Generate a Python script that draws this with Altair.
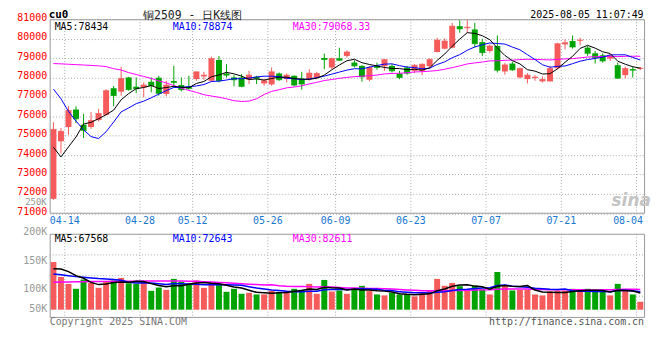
import altair as alt
import pandas as pd

# ---------------- data ----------------
dates = [
    "04-11", "04-14", "04-15", "04-16", "04-17", "04-18", "04-21", "04-22", "04-23", "04-24",
    "04-25", "04-28", "04-29", "04-30", "05-06", "05-07", "05-08", "05-09", "05-12", "05-13",
    "05-14", "05-15", "05-16", "05-19", "05-20", "05-21", "05-22", "05-23", "05-26", "05-27",
    "05-28", "05-29", "05-30", "06-03", "06-04", "06-05", "06-06", "06-09", "06-10", "06-11",
    "06-12", "06-13", "06-16", "06-17", "06-18", "06-19", "06-20", "06-23", "06-24", "06-25",
    "06-26", "06-27", "06-30", "07-01", "07-02", "07-03", "07-04", "07-07", "07-08", "07-09",
    "07-10", "07-11", "07-14", "07-15", "07-16", "07-17", "07-18", "07-21", "07-22", "07-23",
    "07-24", "07-25", "07-28", "07-29", "07-30", "07-31", "08-01", "08-04", "08-05",
]
opens = [
    71742, 74708, 75442, 76345, 75561, 75442, 75800, 76073, 77436, 77266,
    78000, 77522, 77488, 77777, 77982, 77147, 77812, 77607, 77539, 77914,
    78050, 77829, 78903, 78204, 78000, 78000, 77880, 78034, 77692, 77641,
    78204, 77914, 78085, 77948, 77914, 77982, 79005, 78511, 78988, 79108,
    78766, 78596, 77880, 78596, 78579, 78596, 78204, 78511, 78340, 78340,
    78579, 79312, 79482, 79534, 80642, 80540, 80471, 79823, 79363, 79619,
    78306, 78715, 78000, 77914, 77965, 77795, 77795, 78477, 79704, 79875,
    79892, 79534, 79244, 79142, 78971, 78630, 78119, 78426, 78443,
]
highs = [
    75697, 75390, 76516, 76516, 76124, 76209, 76379, 77402, 77556, 78545,
    78033, 78000, 77744, 78000, 78085, 77829, 78596, 78000, 78085, 78300,
    78289, 79073, 79107, 78681, 78118, 78170, 78340, 78085, 77914, 78511,
    78255, 78204, 78118, 78289, 78425, 78289, 79227, 79022, 79534, 79397,
    78886, 78630, 78596, 78766, 78937, 78681, 78340, 78596, 78681, 78715,
    78988, 80045, 80011, 80812, 80948, 80983, 80812, 79994, 79704, 80164,
    78749, 78800, 78511, 78221, 78119, 78051, 78596, 79790, 79960, 80164,
    80045, 79619, 79363, 79244, 79193, 78766, 78562, 78562, 78545,
]
lows = [
    71691, 74077, 75050, 75646, 74879, 75356, 75731, 76039, 76516, 77062,
    77317, 77198, 76977, 77232, 77062, 77028, 77488, 77283, 77368, 77829,
    77880, 77778, 77744, 78000, 77539, 77488, 77658, 77658, 77573, 77573,
    77829, 77744, 77539, 77368, 77829, 77914, 78426, 78426, 78852, 79022,
    78511, 77777, 77795, 78392, 78340, 78255, 77914, 78136, 78221, 78119,
    78460, 79278, 79449, 79500, 80301, 80301, 79534, 79108, 79278, 78255,
    78136, 78340, 77948, 77693, 77829, 77744, 77795, 78426, 79449, 79483,
    79653, 79108, 78715, 78766, 78852, 77914, 77948, 78000, 78374,
]
closes = [
    75322, 75220, 76294, 75868, 75271, 75783, 76141, 77317, 77062, 77948,
    77368, 77419, 77607, 77573, 77181, 77607, 77744, 77368, 77437, 78289,
    78118, 78971, 77829, 78119, 77880, 77539, 78118, 77948, 77829, 78289,
    77880, 78118, 77607, 77658, 78221, 78204, 78920, 78971, 78886, 79312,
    78596, 78033, 78511, 78511, 78920, 78340, 78000, 78221, 78630, 78681,
    78920, 79926, 79875, 80642, 80505, 80590, 79738, 79278, 79619, 78374,
    78647, 78391, 78460, 78119, 78017, 77897, 78460, 79738, 79790, 79568,
    79926, 79244, 79022, 78852, 79108, 77965, 78460, 78374, 78477,
]
volumes = [
    146200, 117400, 104000, 94400, 112300, 105900, 96300, 109100, 110400, 115500,
    105200, 104000, 107200, 90500, 96900, 92400, 113600, 108400, 104000, 110400,
    96300, 107200, 104000, 88600, 94400, 84800, 86700, 83500, 83500, 90500,
    88600, 90500, 94400, 92400, 104000, 84800, 111600, 89200, 91200, 84800,
    94400, 100200, 90000, 83500, 81600, 86700, 83500, 83500, 79700, 86000,
    90500, 113600, 100200, 105900, 99500, 92400, 100200, 93700, 83500, 127000,
    100200, 91200, 92400, 92400, 83500, 81600, 89200, 90500, 90500, 94400,
    89200, 94400, 88600, 88600, 81600, 104000, 92400, 83500, 69400,
]

# moving-average values at the left edge (their history lies before the chart)
ma5_head = [74400, 73900, 74420, 74930]
ma10_head = [77400, 76900, 76250, 75750, 75300, 74950, 74850, 75200, 75700]
ma30_head = [
    78715, 78700, 78680, 78660, 78640, 78620, 78596, 78560, 78450, 78380,
    78250, 78150, 78050, 77950, 77820, 77720, 77580, 77450, 77330, 77230,
    77110, 77040, 76980, 76900, 76800, 76760, 76780, 76900, 77120,
]
vma5_head = [133400, 132800, 127600, 120000]
vma10_head = [123100, 121800, 119900, 118000, 116700, 115500, 114200, 113600, 112300]
vma30_head = [
    107200, 107500, 107800, 108000, 108200, 108400, 108600, 108800, 109000, 109100,
    109200, 109300, 109400, 109500, 109500, 109500, 109500, 109400, 109200, 109000,
    108300, 107500, 106800, 106000, 105200, 104300, 103400, 102600, 102000,
]

price_ticks = [71000, 72000, 73000, 74000, 75000, 76000, 77000, 78000, 79000, 80000, 81000]
volume_ticks = [50000, 100000, 150000, 200000]
volume_grid = [80000, 120000, 160000]
label_dates = ["04-14", "04-28", "05-12", "05-26", "06-09", "06-23", "07-07", "07-21", "08-04"]


def moving_average(values, n, head):
    s = pd.Series(values, dtype=float).rolling(n).mean()
    s.iloc[: len(head)] = head
    return s


df = pd.DataFrame({
    "date": dates, "open": opens, "high": highs, "low": lows,
    "close": closes, "volume": volumes,
})
df["ma5"] = moving_average(closes, 5, ma5_head)
df["ma10"] = moving_average(closes, 10, ma10_head)
df["ma30"] = moving_average(closes, 30, ma30_head)
df["vma5"] = moving_average(volumes, 5, vma5_head)
df["vma10"] = moving_average(volumes, 10, vma10_head)
df["vma30"] = moving_average(volumes, 30, vma30_head)

ticks_df = pd.DataFrame({"date": label_dates})
one = pd.DataFrame({"k": [0]})

# ---------------- styling ----------------
MONO = "DejaVu Sans Mono"
UP, DOWN = "#f55b5b", "#00a300"
GRID = "#aaaaaa"
W, H = 599, 300
P_TOP, P_BOT = 0, 195.5
V_TOP, V_BOT = 216.7, 300
VOL_BASE = 54000

xs = alt.Scale(type="band", paddingInner=0, paddingOuter=0)
ps = alt.Scale(domain=[71000, 81000], range=[P_BOT, P_TOP], nice=False, zero=False)
vs = alt.Scale(domain=[40000, 200000], range=[V_BOT, V_TOP], nice=False, zero=False)

X = alt.X("date:O", scale=xs, axis=None, title=None)
XR = alt.X("date:O", scale=xs, axis=None, title=None, bandPosition=1)
col = alt.condition("datum.close >= datum.open", alt.value(UP), alt.value(DOWN))

base = alt.Chart(df)
src1 = alt.Chart(one)

price_axis = alt.Axis(
    values=price_ticks, format="d", labelColor="#ff0000", labelFont=MONO, labelFontSize=10,
    ticks=False, domain=False, grid=True, gridColor=GRID, gridDash=[1, 2],
    labelPadding=3, labelOffset=-2, labelOverlap=False,
)
vol_axis = alt.Axis(
    values=volume_ticks, orient="left", labelExpr="format(datum.value / 1000, 'd') + 'K'",
    labelColor="#999999", labelFont=MONO, labelFontSize=10,
    ticks=False, domain=False, grid=False, labelPadding=3, labelOverlap=False,
    labelOffset={"expr": "datum.value == 200000 ? -3 : "
                         "datum.value == 100000 ? 3 : datum.value == 50000 ? -3 : 0"},
)

layers = []

# panel grids
layers.append(alt.Chart(ticks_df).mark_rule(color=GRID, strokeDash=[1, 2]).encode(
    x=XR, y=alt.value(P_TOP), y2=alt.value(P_BOT)))
layers.append(alt.Chart(ticks_df).mark_rule(color=GRID, strokeDash=[1, 2]).encode(
    x=XR, y=alt.value(V_TOP), y2=alt.value(V_BOT)))
layers.append(alt.Chart(pd.DataFrame({"v": volume_grid})).mark_rule(color=GRID, strokeDash=[1, 2]).encode(
    y=alt.Y("v:Q", scale=vs, axis=None, title=None), x=alt.value(0), x2=alt.value(W)))

# candles
layers.append(base.mark_rule(strokeWidth=1).encode(
    x=X, y=alt.Y("high:Q", scale=ps, axis=None, title=None), y2="low:Q", color=col))
layers.append(base.mark_bar(size=6).encode(
    x=X, y=alt.Y("open:Q", scale=ps, axis=price_axis, title=None), y2="close:Q", color=col))
layers.append(base.mark_tick(orient="horizontal", size=6, thickness=1).encode(
    x=X, y=alt.Y("close:Q", scale=ps, axis=None, title=None), color=col))

# volume bars
layers.append(base.mark_bar(size=6).encode(
    x=X, y=alt.Y("volume:Q", scale=vs, axis=vol_axis, title=None), y2=alt.datum(VOL_BASE), color=col))

# moving averages
for field, color, scale, width in [
    ("ma30", "#ff00ff", ps, 1), ("ma10", "#0000ff", ps, 1), ("ma5", "#000000", ps, 1),
    ("vma30", "#ff00ff", vs, 1.5), ("vma10", "#0000ff", vs, 1.5), ("vma5", "#000000", vs, 1.5),
]:
    layers.append(base.mark_line(color=color, strokeWidth=width).encode(
        x=X, y=alt.Y(f"{field}:Q", scale=scale, axis=None, title=None)))

# panel frames
for top, bot in [(P_TOP + 0.5, P_BOT), (V_TOP, V_BOT + 0.5)]:
    layers.append(src1.mark_rect(fillOpacity=0, stroke="#999999", strokeWidth=1).encode(
        x=alt.value(0.5), x2=alt.value(W + 0.5), y=alt.value(top), y2=alt.value(bot)))

# date labels
BLUE = "#1a78d2"
layers.append(alt.Chart(ticks_df.iloc[:-1]).mark_text(
    font=MONO, fontSize=10, color=BLUE, align="center", baseline="middle").encode(
    x=XR, y=alt.value(203), text="date:N"))
layers.append(alt.Chart(ticks_df.iloc[-1:]).mark_text(
    font=MONO, fontSize=10, color=BLUE, align="right", baseline="middle", dx=6.5).encode(
    x=XR, y=alt.value(203), text="date:N"))


def note(text, x, y, color="#000000", size=10, align="left", font=MONO, weight="normal", style="normal"):
    return src1.mark_text(text=text, align=align, baseline="middle", font=font, fontSize=size,
                          color=color, fontWeight=weight, fontStyle=style).encode(
        x=alt.value(x), y=alt.value(y))


layers += [
    note("cu0", -1, -4.2, size=11, weight="bold"),
    note("铜2509 - 日K线图", 144, -3.3, color="#222222", size=11.5, align="center"),
    note("2025-08-05 11:07:49", 598.5, -4.5, size=10, align="right"),
    note("MA5:78434", 5, 7.5),
    note("MA10:78874", 124, 7.5, color="#0000ff"),
    note("MA30:79068.33", 245, 7.5, color="#ff00ff"),
    note("MA5:67568", 5, 221),
    note("MA10:72643", 124, 221, color="#0000ff"),
    note("MA30:82611", 245, 221, color="#ff00ff"),
    note("250K", -3, 184.2, color="#999999", size=9, align="right"),
    note("Copyright 2025 SINA.COM", 0, 305, color="#777777"),
    note("http://finance.sina.com.cn", 599, 305.5, color="#555555", align="right"),
    note("sina", 586, 183, color="#c4c4c4", size=17, align="center", font="DejaVu Sans",
         weight="bold", style="italic"),
]

chart = alt.layer(*layers).resolve_scale(y="independent").properties(
    width=W, height=H,
    autosize=alt.AutoSizeParams(type="none"),
    padding={"left": 42, "top": 10, "right": 8, "bottom": 30},
).configure_view(stroke=None)

chart.save("out.html", embed_options={"renderer": "svg", "actions": False})
